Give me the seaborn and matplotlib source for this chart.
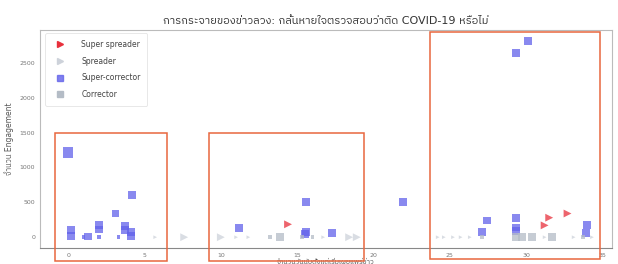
import matplotlib
matplotlib.use("Agg")
import matplotlib.pyplot as plt
import matplotlib.patches as mpatches
from matplotlib.lines import Line2D
from matplotlib import font_manager
from matplotlib.ft2font import FT2Font
import seaborn as sns
import pandas as pd

# ---- data ----
categories = ["Super spreader", "Spreader", "Super-corrector", "Corrector"]

sc_days = [0.0, 0.2, 0.2, 1.0, 1.3, 2.0, 2.0, 2.0, 3.1, 3.3, 4.2, 3.7, 3.7, 4.1, 4.1,
           11.2, 15.6, 15.6, 15.5, 17.3, 21.9, 27.4, 27.1, 29.3, 29.3, 29.3,
           34.0, 33.9, 30.1, 29.3]
sc_eng = [1215, 100, 15, 0, 10, 170, 110, 0, 340, 0, 600, 160, 100, 70, 15,
          130, 510, 80, 50, 60, 500, 240, 70, 270, 140, 90,
          170, 55, 2815, 2645]
sc_size = [3, 2, 2, 1, 2, 2, 2, 1, 2, 1, 2, 2, 2, 2, 2,
           2, 2, 2, 2, 2, 2, 2, 2, 2, 2, 2,
           2, 2, 2, 2]

ss_days = [14.4, 31.5, 31.2, 32.7]
ss_eng = [185, 280, 170, 340]
ss_size = [2, 2, 2, 2]

sp_days = [5.7, 7.6, 10.0, 11.0, 11.8, 16.7, 18.4, 18.9,
           24.2, 24.6, 25.2, 25.7, 26.3, 31.2, 33.1, 34.3]
sp_eng = [0] * 16
sp_size = [1, 2, 2, 1, 1, 1, 2, 2, 1, 1, 1, 1, 1, 1, 1, 1]

co_days = [13.2, 13.9, 15.3, 16.0, 27.1, 29.3, 29.7, 30.4, 31.7, 33.7]
co_eng = [0] * 10
co_size = [1, 2, 1, 1, 1, 2, 2, 2, 2, 1]

title = "การกระจายของข่าวลวง: กลั้นหายใจตรวจสอบว่าติด COVID-19 หรือไม่"
xlabel = "จำนวนวันนับตั้งแต่เริ่มเผยแพร่ข่าว"
ylabel = "จำนวน Engagement"
xticks = [0, 5, 10, 15, 20, 25, 30, 35]
yticks = [0, 500, 1000, 1500, 2000, 2500]

df = pd.DataFrame({
    "day": ss_days + sp_days + sc_days + co_days,
    "engagement": ss_eng + sp_eng + sc_eng + co_eng,
    "size": ss_size + sp_size + sc_size + co_size,
    "category": [categories[0]] * len(ss_days) + [categories[1]] * len(sp_days)
                + [categories[2]] * len(sc_days) + [categories[3]] * len(co_days),
})

sns.set_theme(style="white")

# find an installed family that has Thai glyphs
thai_families = []
for fe in font_manager.fontManager.ttflist:
    try:
        cmap = FT2Font(fe.fname).get_charmap()
    except Exception:
        continue
    if ord("ก") in cmap and fe.name not in thai_families:
        thai_families.append(fe.name)
thai_families.sort(key=lambda n: (0 if "Thai" in n else 1, 0 if "Looped" not in n else 1))
plt.rcParams["font.family"] = ["DejaVu Sans"] + thai_families + ["Noto Sans"]

palette = {"Super spreader": "#e8303c", "Spreader": "#cdd2da",
           "Super-corrector": "#6262ea", "Corrector": "#b4bcc6"}
markers = {"Super spreader": ">", "Spreader": ">",
           "Super-corrector": "s", "Corrector": "s"}

fig = plt.figure(figsize=(6.18, 2.64), dpi=100)
ax = fig.add_axes([0.065, 0.06, 0.925, 0.827])

sns.scatterplot(data=df, x="day", y="engagement", hue="category", style="category",
                size="size", sizes={1: 7, 2: 32, 3: 55}, palette=palette,
                markers=markers, alpha=0.75, linewidth=0, legend=False, ax=ax)

ax.set_xlim(-1.83, 35.6)
ax.set_ylim(-157, 2974)
ax.set_xticks(xticks)
ax.set_yticks(yticks)
ax.tick_params(labelsize=4.5, colors="#777777", length=2, width=0.5, pad=1.5)
for s in ax.spines.values():
    s.set_color("#bbbbbb")
    s.set_linewidth(0.8)
ax.spines["bottom"].set_color("#888888")

ax.set_title(title, fontsize=8, color="#333333", pad=4)
ax.set_ylabel(ylabel, fontsize=5.5, color="#555555", labelpad=4)
ax.set_xlabel(xlabel, fontsize=5, color="#555555", labelpad=0.5)

handles = [
    Line2D([], [], marker=">", ls="", color=palette["Super spreader"], markersize=5),
    Line2D([], [], marker=">", ls="", color=palette["Spreader"], markersize=5),
    Line2D([], [], marker="s", ls="", color=palette["Super-corrector"], alpha=0.8, markersize=4.5),
    Line2D([], [], marker="s", ls="", color=palette["Corrector"], markersize=4.5),
]
leg = ax.legend(handles, categories, loc="upper left", fontsize=5.5, frameon=True,
                bbox_to_anchor=(0.005, 0.995), labelspacing=1.0, borderpad=0.9,
                handletextpad=1.8, borderaxespad=0.3)
leg.get_frame().set_edgecolor("#dddddd")
leg.get_frame().set_linewidth(0.6)
for t in leg.get_texts():
    t.set_color("#444444")

box_color = "#e8673f"
boxes = [(-0.85, -340, 7.35, 1840), (9.2, -340, 10.2, 1840), (23.7, -310, 11.1, 3250)]
for (bx, by, bw, bh) in boxes:
    ax.add_patch(mpatches.Rectangle((bx, by), bw, bh, fill=False, edgecolor=box_color,
                                    linewidth=1.1, clip_on=False, zorder=5))

fig.savefig("out.png", dpi=100)
